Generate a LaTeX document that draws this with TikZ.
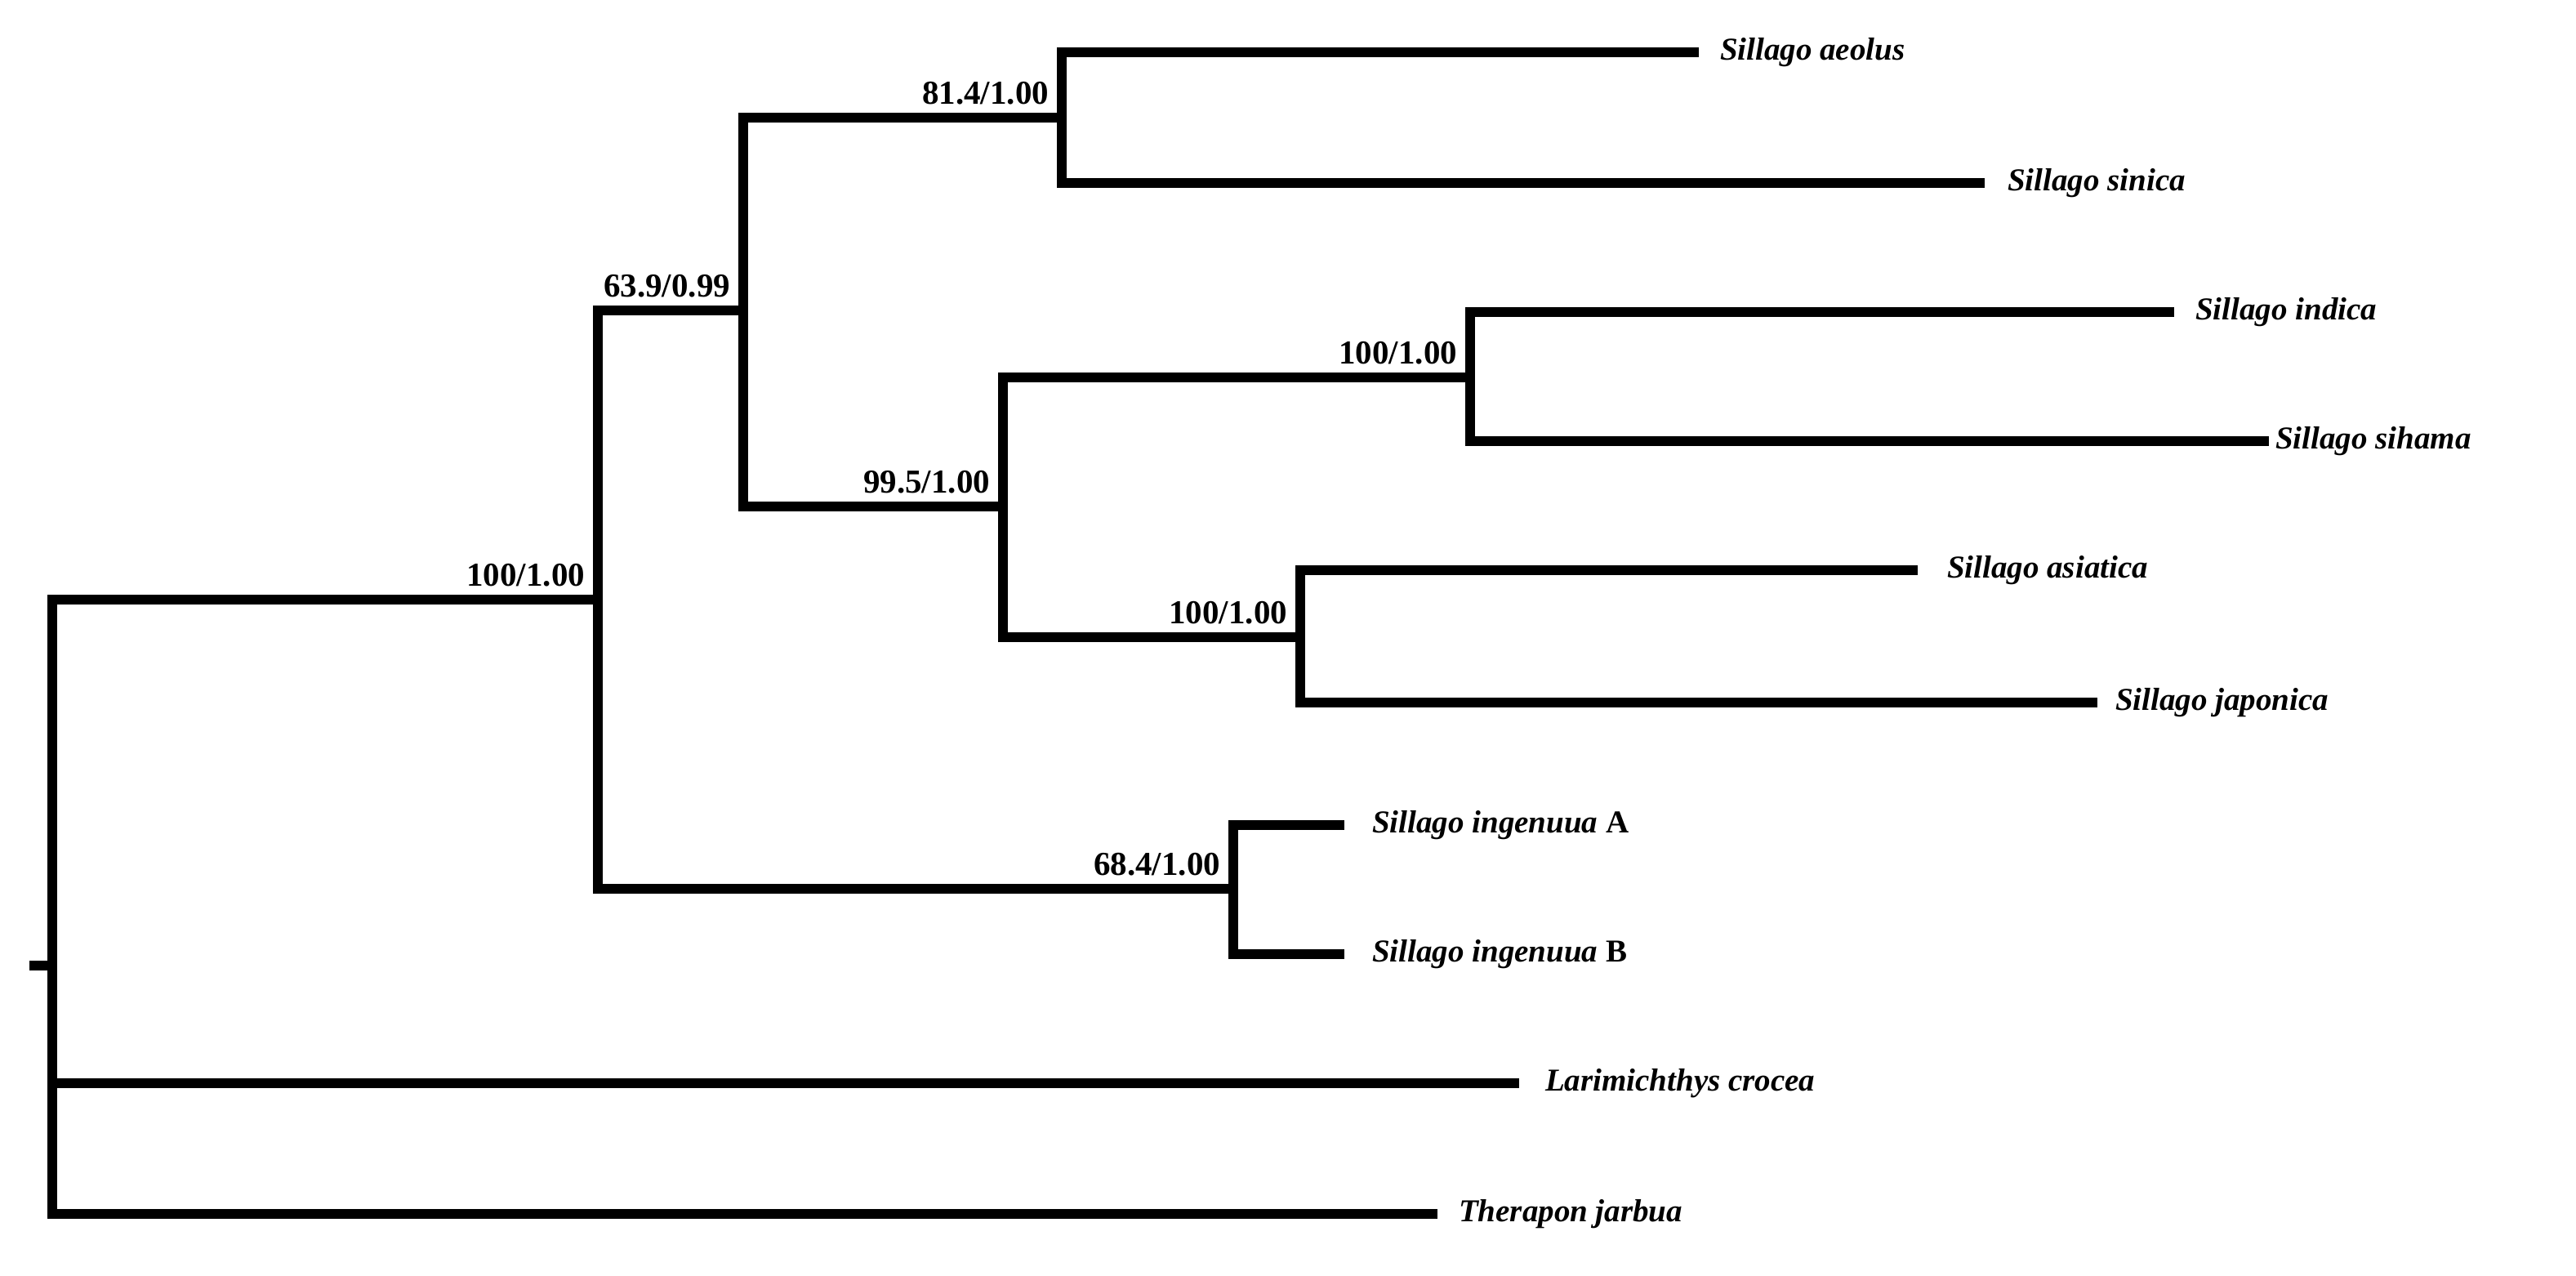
\documentclass[tikz,border=0pt]{standalone}
\usepackage{fontspec}
\setmainfont{Liberation Serif}
\begin{document}
\begin{tikzpicture}[x=1pt,y=-1pt,line width=6pt,
  br/.style={line cap=rect},
  sup/.style={anchor=south east,inner sep=0pt,font=\bfseries\fontsize{20.5}{20}\selectfont},
  tax/.style={anchor=west,inner sep=0pt,font=\bfseries\itshape\fontsize{19.5}{19}\selectfont}]
\useasboundingbox (0,0) rectangle (1577,781);
% coordinates
\coordinate (r) at (32,591);
\coordinate (rs) at (18,591);
\coordinate (n1) at (366,367);
\coordinate (n2) at (455,190);
\coordinate (n3) at (650,72);
\coordinate (n4) at (614,310);
\coordinate (n5) at (900,231);
\coordinate (n6) at (796,390);
\coordinate (n7) at (755,544);
% taxa
\node[tax] (t1) at (1050,32) {Sillago aeolus};
\node[tax] (t2) at (1226,112) {Sillago sinica};
\node[tax] (t3) at (1341,191) {Sillago indica};
\node[tax] (t4) at (1390,270) {Sillago sihama};
\node[tax] (t5) at (1189,349) {Sillago asiatica};
\node[tax] (t6) at (1292,430) {Sillago japonica};
\node[tax] (t7) at (837,505) {Sillago ingenuua \textup{A}};
\node[tax] (t8) at (837,584) {Sillago ingenuua \textup{B}};
\node[tax] (t9) at (943,663) {Larimichthys crocea};
\node[tax] (t10) at (890,743) {Therapon jarbua};
% branches
\draw (rs) -- (r);
\draw[br] (r |- n1) -- (r |- t10) -- (877,743);
\draw (r |- t9) -- (930,663);
\draw (r |- n1) -- (n1);
\draw[br] (n1 |- n2) -- (n1 |- n7) -- (n7);
\draw (n1 |- n2) -- (n2);
\draw[br] (n2 |- n3) -- (n2 |- n4) -- (n4);
\draw[br] (1037,32) -- (n3 |- t1) -- (n3 |- t2) -- (1212,112);
\draw (n2 |- n3) -- (n3);
\draw[br] (n4 |- n5) -- (n4 |- n6) -- (n6);
\draw (n4 |- n5) -- (n5);
\draw[br] (1328,191) -- (n5 |- t3) -- (n5 |- t4) -- (1386,270);
\draw[br] (1171,349) -- (n6 |- t5) -- (n6 |- t6) -- (1281,430);
\draw[br] (820,505) -- (n7 |- t7) -- (n7 |- t8) -- (820,584);
% support labels
\node[sup] (s1) at ([shift={(-5,-5)}]n1) {100/1.00};
\node[sup] (s2) at ([shift={(-5,-5)}]n2) {63.9/0.99};
\node[sup] (s3) at ([shift={(-5,-5)}]n3) {81.4/1.00};
\node[sup] (s4) at ([shift={(-5,-5)}]n4) {99.5/1.00};
\node[sup] (s5) at ([shift={(-5,-5)}]n5) {100/1.00};
\node[sup] (s6) at ([shift={(-5,-5)}]n6) {100/1.00};
\node[sup] (s7) at ([shift={(-5,-5)}]n7) {68.4/1.00};
\end{tikzpicture}
\end{document}
